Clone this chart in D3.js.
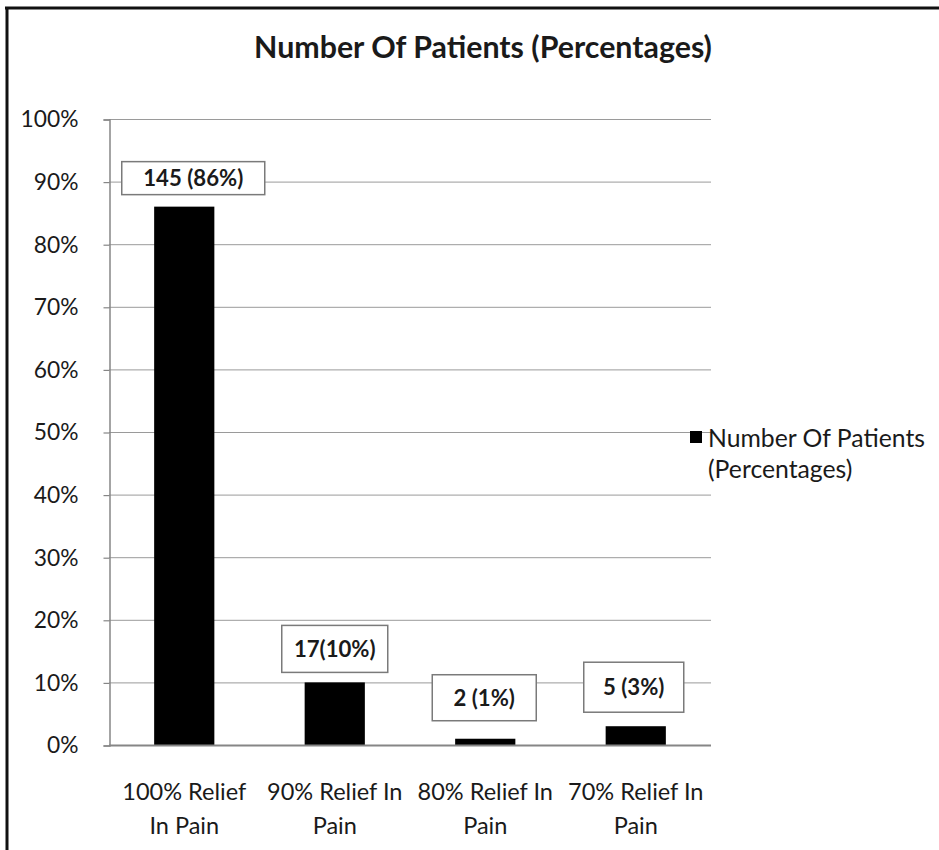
<!DOCTYPE html>
<html>
<head>
<meta charset="utf-8">
<script src="https://cdn.jsdelivr.net/npm/d3@7"></script>
<style>
  html, body { margin: 0; padding: 0; background: #fff; }
  svg { display: block; }
  text { font-family: Lato, "Open Sans", sans-serif; fill: #1a1a1a; }
</style>
</head>
<body>
<svg id="chart" width="939" height="850"></svg>
<script>
// ---- data ----
const categories = ["100% Relief\nIn Pain", "90% Relief In\nPain", "80% Relief In\nPain", "70% Relief In\nPain"];
const percentValues = [86, 10, 1, 3];
const patientCounts = [145, 17, 2, 5];
const dataLabels = ["145 (86%)", "17(10%)", "2 (1%)", "5 (3%)"];
const yTicks = [0, 10, 20, 30, 40, 50, 60, 70, 80, 90, 100];
const seriesName = "Number Of Patients (Percentages)";
const chartTitle = "Number Of Patients (Percentages)";

// ---- label box layout (relative to bar top / center) ----
const labelBoxW = [143, 106, 104, 100];
const labelBoxH = [33, 47, 46, 50];
const labelGap = [12, 10, 18, 14];
const labelDx = [9, 0, -1, -2];

const svg = d3.select("#chart");
const W = 939, H = 850;
const pLeft = 109, pRight = 711, pTop = 119, pBottom = 745;

function fitWidth(sel, target) {
  const node = sel.node();
  const fs = parseFloat(sel.attr("font-size"));
  const w = node.getComputedTextLength();
  if (w > 0) sel.attr("font-size", (fs * target / w).toFixed(2));
  return sel;
}

// frame
svg.append("rect").attr("x", 0).attr("y", 0).attr("width", W).attr("height", H).attr("fill", "#fff");
svg.append("line").attr("x1", 5).attr("x2", W).attr("y1", 8).attr("y2", 8)
  .attr("stroke", "#111").attr("stroke-width", 3);
svg.append("line").attr("x1", 7).attr("x2", 7).attr("y1", 7).attr("y2", H)
  .attr("stroke", "#111").attr("stroke-width", 3);

const x = d3.scaleBand().domain(categories).range([pLeft, pRight]).paddingInner(0.6).paddingOuter(0.3);
const y = d3.scaleLinear().domain([0, 100]).range([pBottom, pTop]);

// gridlines
svg.append("g").selectAll("line").data(yTicks.filter(t => t > 0)).join("line")
  .attr("x1", pLeft).attr("x2", pRight)
  .attr("y1", d => y(d) + 0.5).attr("y2", d => y(d) + 0.5)
  .attr("stroke", "#9a9a9a").attr("stroke-width", 1);

// y axis
const yAxis = d3.axisLeft(y).tickValues(yTicks).tickSize(6).tickPadding(25).tickFormat(d => d + "%");
const gy = svg.append("g").attr("transform", `translate(${pLeft + 0.5},0.5)`).call(yAxis);
gy.select(".domain").attr("stroke", "#868686").attr("stroke-width", 1.5);
gy.selectAll(".tick line").attr("stroke", "#868686").attr("stroke-width", 1.2);
const tickTexts = gy.selectAll(".tick text").attr("font-size", 20).attr("fill", "#2a2a2a")
  .attr("font-family", "Lato, sans-serif");
const topTick = tickTexts.filter(d => d === 100);
fitWidth(topTick, 58);
tickTexts.attr("font-size", topTick.attr("font-size"));

// bars
svg.append("g").selectAll("rect").data(percentValues).join("rect")
  .attr("x", (d, i) => x(categories[i]))
  .attr("y", d => y(d))
  .attr("width", x.bandwidth())
  .attr("height", d => y(0) - y(d))
  .attr("fill", "#000");

// x axis line
svg.append("line").attr("x1", pLeft).attr("x2", pRight)
  .attr("y1", pBottom + 0.5).attr("y2", pBottom + 0.5)
  .attr("stroke", "#868686").attr("stroke-width", 2);

// x labels
const xl = svg.append("g");
categories.forEach((c, i) => {
  const cx = x(c) + x.bandwidth() / 2;
  c.split("\n").forEach((line, j) => {
    xl.append("text").attr("class", "xlab").attr("x", cx).attr("y", 800 + j * 34)
      .attr("text-anchor", "middle").attr("font-size", 20).attr("fill", "#2a2a2a").text(line);
  });
});
const firstX = xl.select("text.xlab");
fitWidth(firstX, 124);
xl.selectAll("text.xlab").attr("font-size", firstX.attr("font-size"));

// data labels
const lg = svg.append("g");
percentValues.forEach((v, i) => {
  const cx = x(categories[i]) + x.bandwidth() / 2 + labelDx[i];
  const bh = labelBoxH[i];
  const by = y(v) - labelGap[i] - bh;
  lg.append("rect").attr("x", cx - labelBoxW[i] / 2).attr("y", by)
    .attr("width", labelBoxW[i]).attr("height", bh)
    .attr("fill", "#fff").attr("stroke", "#7a7a7a").attr("stroke-width", 1.5);
  lg.append("text").attr("class", "dlab").attr("x", cx).attr("y", by + bh / 2)
    .attr("dy", "0.36em").attr("text-anchor", "middle")
    .attr("font-size", 19).attr("font-weight", "bold").attr("fill", "#111")
    .text(dataLabels[i]);
});
const firstD = lg.select("text.dlab");
fitWidth(firstD, 100);
lg.selectAll("text.dlab").attr("font-size", firstD.attr("font-size"));

// title
const t = svg.append("text").attr("x", 483).attr("y", 58).attr("text-anchor", "middle")
  .attr("font-size", 26).attr("font-weight", "bold").attr("fill", "#111").text(chartTitle);
fitWidth(t, 458);

// legend
svg.append("rect").attr("x", 690).attr("y", 431).attr("width", 12).attr("height", 12).attr("fill", "#000");
const words = seriesName.split(" ");
const l1 = svg.append("text").attr("x", 708).attr("y", 447).attr("font-size", 21).attr("fill", "#2a2a2a")
  .text(words.slice(0, 3).join(" "));
fitWidth(l1, 217);
svg.append("text").attr("x", 708).attr("y", 478).attr("font-size", l1.attr("font-size")).attr("fill", "#2a2a2a")
  .text(words.slice(3).join(" "));
</script>
</body>
</html>
